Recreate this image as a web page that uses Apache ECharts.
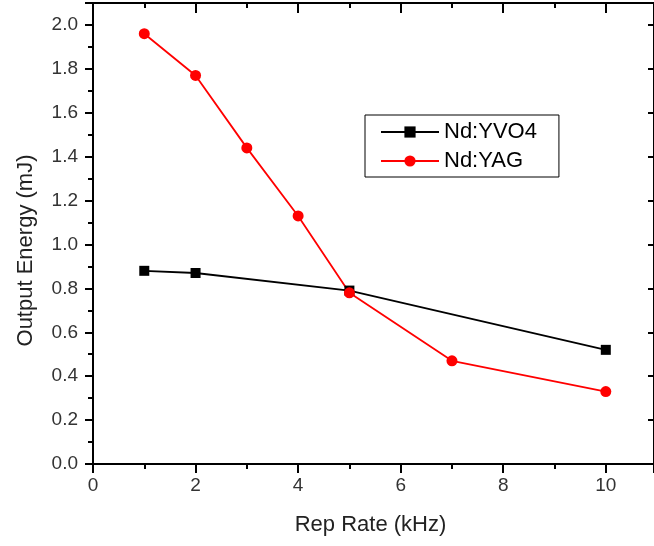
<!DOCTYPE html>
<html>
<head>
<meta charset="utf-8">
<script src="https://cdn.jsdelivr.net/npm/echarts@6/dist/echarts.min.js"></script>
<style>html,body{margin:0;padding:0;background:#fff}#c{width:654px;height:546px}</style>
</head>
<body>
<div id="c"></div>
<script>
var yvo4X = [1, 2, 5, 10];
var yvo4Y = [0.88, 0.87, 0.79, 0.52];
var yagX = [1, 2, 3, 4, 5, 7, 10];
var yagY = [1.96, 1.77, 1.44, 1.13, 0.78, 0.47, 0.33];
var xTitle = 'Rep Rate (kHz)';
var yTitle = 'Output Energy (mJ)';

function pairs(xs, ys) { return xs.map(function (x, i) { return [x, ys[i]]; }); }

var chart = echarts.init(document.getElementById('c'), null, {renderer: 'canvas'});
var font = 'Liberation Sans, Arial, sans-serif';
var axisLine = {show: true, onZero: false, lineStyle: {color: '#000', width: 2}};
var XMAX = 10.94, YMAX = 2.1;
chart.setOption({
  animation: false,
  backgroundColor: '#fff',
  grid: {left: 93, top: 3, right: -2, bottom: 82, containLabel: false},
  legend: {
    left: 365, top: 115, orient: 'vertical',
    padding: [6, 22, 5, 15],
    borderColor: '#000', borderWidth: 1,
    itemWidth: 58, itemHeight: 14, itemGap: 7,
    textStyle: {fontFamily: font, fontSize: 22, color: '#000'},
    data: ['Nd:YVO4', 'Nd:YAG']
  },
  xAxis: [{
    type: 'value', min: 0, max: XMAX, interval: 2,
    position: 'bottom',
    name: xTitle, nameLocation: 'middle', nameGap: 50,
    nameTextStyle: {fontFamily: font, fontSize: 22, color: '#222', padding: [0, 6, 0, 0]},
    axisLine: axisLine,
    axisTick: {show: true, length: 9, lineStyle: {color: '#000', width: 2}},
    minorTick: {show: true, splitNumber: 2, length: 5, lineStyle: {color: '#000', width: 2}},
    splitLine: {show: false},
    axisLabel: {fontFamily: font, fontSize: 19, color: '#333', margin: 12, showMaxLabel: false}
  }, {
    type: 'value', min: 0, max: XMAX, interval: 2,
    position: 'top',
    axisLine: axisLine,
    axisTick: {show: true, inside: true, length: 10, lineStyle: {color: '#000', width: 2}},
    minorTick: {show: true, splitNumber: 2, length: 5, lineStyle: {color: '#000', width: 2}},
    splitLine: {show: false},
    axisLabel: {show: false}
  }],
  yAxis: [{
    type: 'value', min: 0, max: YMAX, interval: 0.2,
    position: 'left',
    name: yTitle, nameLocation: 'middle', nameGap: 56, nameRotate: 90,
    nameTextStyle: {fontFamily: font, fontSize: 22, color: '#222', padding: [0, 34, 0, 0]},
    axisLine: axisLine,
    axisTick: {show: true, length: 8, lineStyle: {color: '#000', width: 2}},
    minorTick: {show: true, splitNumber: 2, length: 5, lineStyle: {color: '#000', width: 2}},
    splitLine: {show: false},
    axisLabel: {fontFamily: font, fontSize: 19, color: '#333', margin: 15, showMaxLabel: false,
      formatter: function (v) { return v.toFixed(1); }}
  }, {
    type: 'value', min: 0, max: YMAX, interval: 0.2,
    position: 'right',
    axisLine: axisLine,
    axisTick: {show: true, inside: true, length: 6, lineStyle: {color: '#000', width: 2}},
    splitLine: {show: false},
    axisLabel: {show: false}
  }],
  series: [{
    name: 'Nd:YVO4', type: 'line', xAxisIndex: 0, yAxisIndex: 0,
    data: pairs(yvo4X, yvo4Y),
    symbol: 'rect', symbolSize: 10,
    lineStyle: {color: '#000', width: 1.8},
    itemStyle: {color: '#000'}
  }, {
    name: 'Nd:YAG', type: 'line', xAxisIndex: 0, yAxisIndex: 0,
    data: pairs(yagX, yagY),
    symbol: 'circle', symbolSize: 11,
    lineStyle: {color: '#f00', width: 1.8},
    itemStyle: {color: '#f00'}
  }]
});
</script>
</body>
</html>
